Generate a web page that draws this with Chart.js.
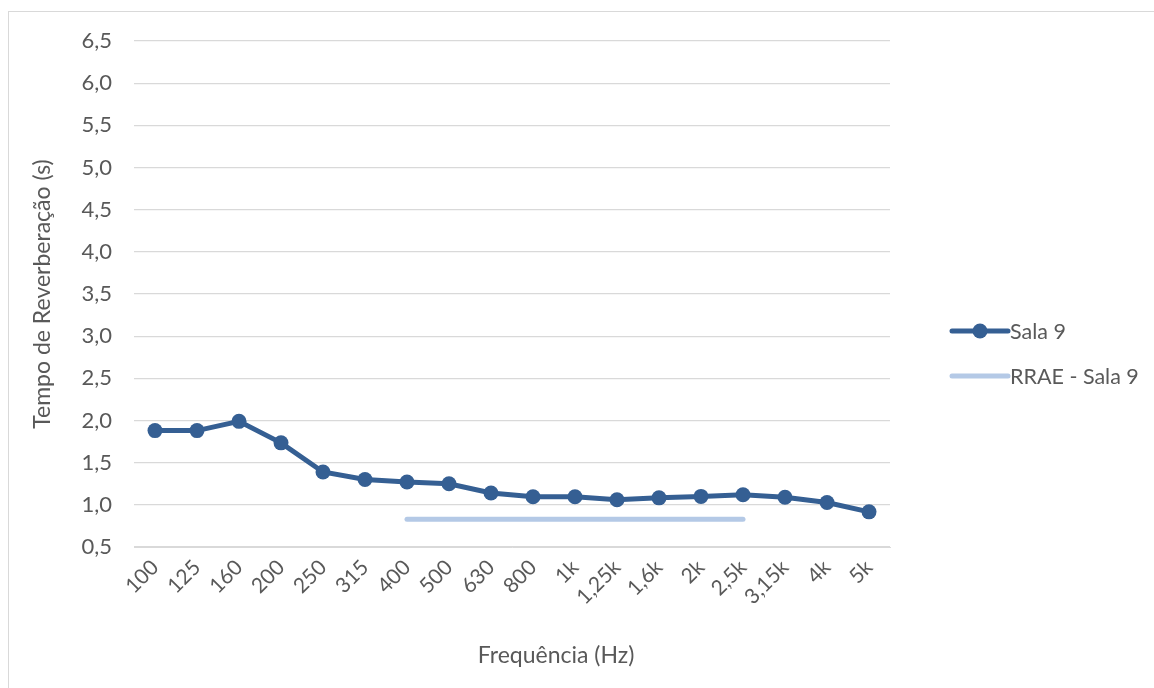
<!DOCTYPE html>
<html lang="pt">
<head>
    <meta charset="UTF-8">
    <title>Tempo de Reverberação - Sala 9</title>
    <script src="https://cdn.jsdelivr.net/npm/chart.js"></script>
    <style>
        body { margin: 0; background: #fff; overflow: hidden; }
        .frame {
            position: absolute; left: 8px; top: 11px;
            width: 1200px; height: 720px;
            border: 1px solid #d9d9d9;
        }
        .chart-wrapper { position: absolute; left: 0; top: 0; width: 1154px; height: 688px; }
        canvas { width: 100% !important; height: 100% !important; }
    </style>
</head>
<body>
    <div class="frame"></div>
    <div class="chart-wrapper"><canvas id="chart"></canvas></div>

    <script>
        const frequencias = ["100", "125", "160", "200", "250", "315", "400", "500", "630", "800",
            "1k", "1,25k", "1,6k", "2k", "2,5k", "3,15k", "4k", "5k"];
        const sala9 = [1.88, 1.88, 1.99, 1.735, 1.39, 1.30, 1.27, 1.25, 1.14, 1.095,
            1.095, 1.06, 1.083, 1.10, 1.12, 1.09, 1.027, 0.917];
        const rrae = [null, null, null, null, null, null, 0.83, 0.83, 0.83, 0.83,
            0.83, 0.83, 0.83, 0.83, 0.83, null, null, null];

        const fonte = "Lato, 'Open Sans', sans-serif";
        const cinza = '#595959';
        const tituloX = 'Frequência (Hz)';

        // legenda e título do eixo X desenhados à mão, ao estilo do Excel
        const legendaExcel = {
            id: 'legendaExcel',
            afterDraw(chart) {
                const ctx = chart.ctx;
                const x0 = 952, x1 = 1008;
                const ys = [331, 376];
                chart.data.datasets.forEach((ds, i) => {
                    const y = ys[i];
                    ctx.save();
                    ctx.strokeStyle = ds.borderColor;
                    ctx.lineWidth = ds.borderWidth;
                    ctx.lineCap = 'round';
                    ctx.beginPath();
                    ctx.moveTo(x0, y);
                    ctx.lineTo(x1, y);
                    ctx.stroke();
                    if (ds.pointRadius > 0) {
                        ctx.fillStyle = ds.borderColor;
                        ctx.beginPath();
                        ctx.arc((x0 + x1) / 2, y, ds.pointRadius, 0, Math.PI * 2);
                        ctx.fill();
                    }
                    ctx.fillStyle = cinza;
                    ctx.font = '21.5px ' + fonte;
                    ctx.textBaseline = 'middle';
                    ctx.fillText(ds.label, x1 + 2, y + 1);
                    ctx.restore();
                });

                ctx.save();
                ctx.fillStyle = cinza;
                ctx.font = '23px ' + fonte;
                ctx.textAlign = 'center';
                ctx.textBaseline = 'middle';
                ctx.fillText(tituloX, 556, 656);
                ctx.restore();
            }
        };

        new Chart(document.getElementById('chart'), {
            type: 'line',
            data: {
                labels: frequencias,
                datasets: [{
                    label: 'Sala 9',
                    data: sala9,
                    borderColor: '#355f93',
                    backgroundColor: '#355f93',
                    borderWidth: 5,
                    pointRadius: 7.5,
                    pointHoverRadius: 7.5,
                    pointBackgroundColor: '#355f93',
                    pointBorderWidth: 0,
                    tension: 0
                }, {
                    label: 'RRAE - Sala 9',
                    data: rrae,
                    borderColor: '#b4c9e6',
                    backgroundColor: '#b4c9e6',
                    borderWidth: 5,
                    borderCapStyle: 'round',
                    pointRadius: 0,
                    spanGaps: false
                }]
            },
            options: {
                responsive: true,
                maintainAspectRatio: false,
                animation: false,
                layout: { padding: { left: 29, top: 41, right: 264, bottom: 14 } },
                plugins: { legend: { display: false }, tooltip: { enabled: false } },
                scales: {
                    x: {
                        offset: true,
                        grid: { display: false },
                        border: { color: '#d9d9d9', width: 1 },
                        ticks: {
                            color: cinza,
                            font: { family: fonte, size: 21 },
                            minRotation: 45,
                            maxRotation: 45,
                            autoSkip: false,
                            padding: 0
                        },
                        title: { display: false },
                        afterFit: s => { s.height = 127; }
                    },
                    y: {
                        min: 0.5,
                        max: 6.5,
                        grid: { color: '#d9d9d9', lineWidth: 1.3, drawTicks: false },
                        border: { display: false },
                        ticks: {
                            stepSize: 0.5,
                            color: cinza,
                            font: { family: fonte, size: 22 },
                            padding: 22,
                            callback: v => v.toFixed(1).replace('.', ',')
                        },
                        title: {
                            display: true,
                            text: 'Tempo de Reverberação (s)',
                            color: cinza,
                            font: { family: fonte, size: 23 },
                            padding: { top: 0, bottom: 0 }
                        },
                        afterFit: s => { s.width = 105; }
                    }
                }
            },
            plugins: [legendaExcel]
        });
    </script>
</body>
</html>
